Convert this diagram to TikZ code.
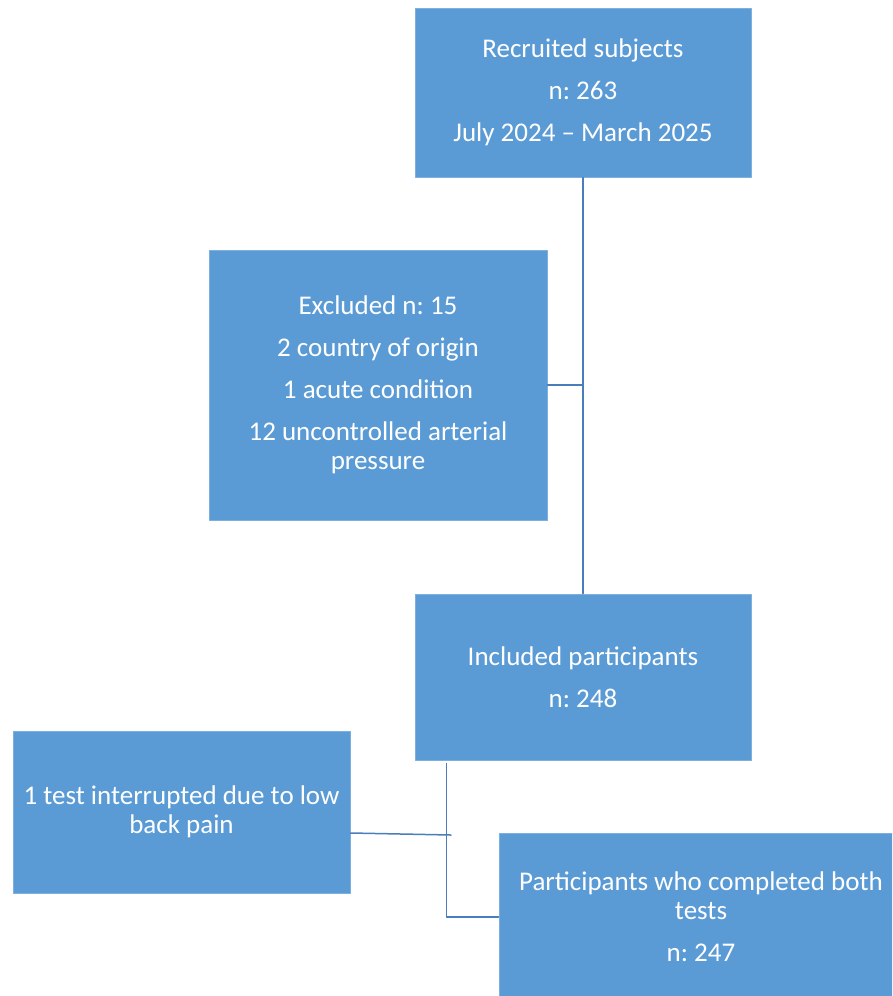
\documentclass[tikz,border=0pt]{standalone}
\usepackage{fontspec}
\setmainfont{Carlito}
\usepackage{tikz}
\usetikzlibrary{calc,positioning}
\definecolor{boxfill}{HTML}{5B9BD5}
\definecolor{boxedge}{HTML}{7DAFDF}
\definecolor{linkline}{HTML}{4A7EBB}
\frenchspacing

\begin{document}
\begin{tikzpicture}[line cap=round,line join=round,x=1pt,y=-1pt,every node/.style={font=\fontsize{27}{29}\selectfont,
		text=white,align=center,inner sep=0pt},
	flowbox/.style={draw=boxedge,line width=1pt,fill=boxfill},
	link/.style={draw=linkline,line width=1.5pt}]

\useasboundingbox (0,0) rectangle (892,996);
\begin{scope}
\clip (0,0) rectangle (892,996);

\node[flowbox,minimum width=336pt,minimum height=169pt] (recruited) at (583,92.5) {Recruited subjects\\[13pt]n: 263\\[13pt]July 2024 – March 2025};
\node[flowbox,minimum width=338pt,minimum height=270pt] (excluded) at (378,385) {Excluded n: 15\\[13pt]2 country of origin\\[13pt]1 acute condition\\[13pt]12 uncontrolled arterial\\pressure};
\node[flowbox,minimum width=336pt,minimum height=166pt] (included) at (583,677) {Included participants\\[13pt]n: 248};
\node[flowbox,minimum width=337pt,minimum height=162pt] (interrupted) at (181.5,812) {1 test interrupted due to low\\back pain};
\node[flowbox,minimum width=404pt,minimum height=168pt] (completed) at (701,917) {Participants who completed both\\tests\\[13pt]n: 247};

\coordinate (split) at ($(included.south west)+(32,3)$);
\coordinate (stub) at (451,835);

\draw[link] (recruited.south) -- (included.north);
\draw[link] (excluded.east) -- (recruited.south |- excluded.east);
\draw[link] (split) |- (completed.west);
\draw[link] (interrupted.east |- 0,833) -- (stub);
\end{scope}
\end{tikzpicture}
\end{document}
